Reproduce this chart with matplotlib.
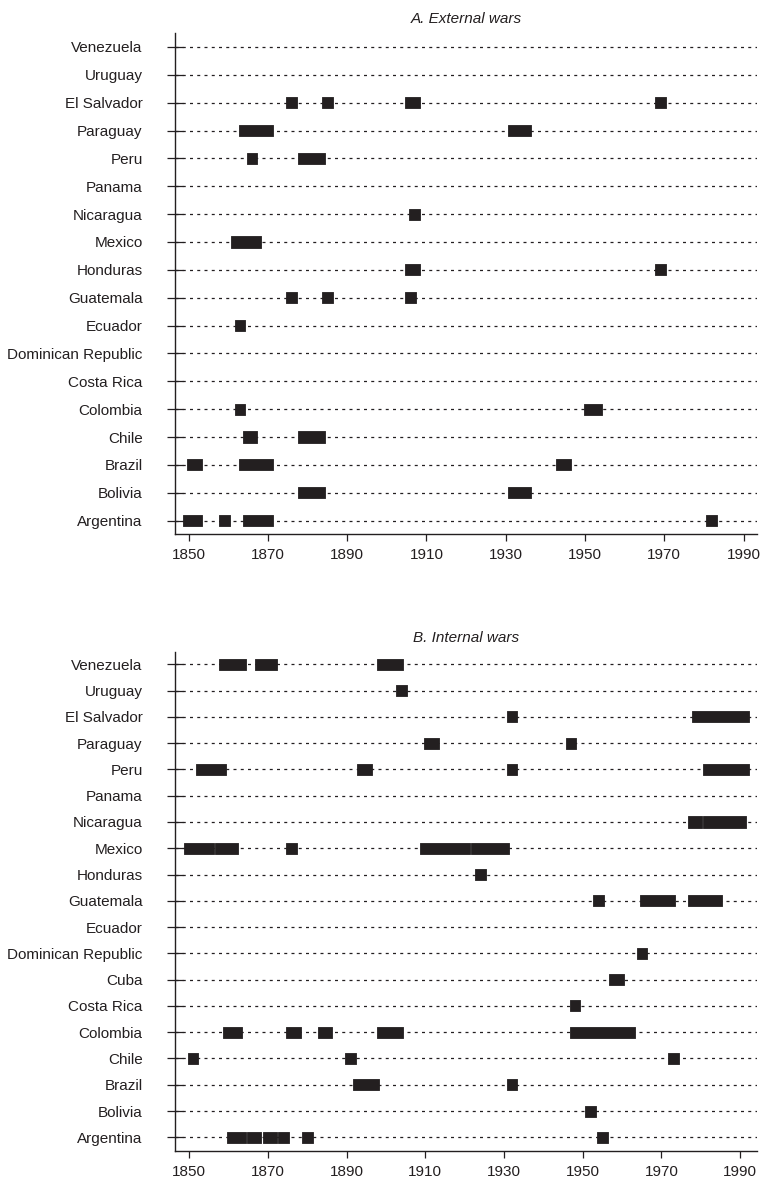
import matplotlib
matplotlib.use("Agg")
import matplotlib.pyplot as plt

plt.rcParams["font.family"] = ["Liberation Sans", "DejaVu Sans"]

INK = "#231f20"

# bottom-to-top row order
ext_countries = ["Argentina", "Bolivia", "Brazil", "Chile", "Colombia", "Costa Rica",
                 "Dominican Republic", "Ecuador", "Guatemala", "Honduras", "Mexico",
                 "Nicaragua", "Panama", "Peru", "Paraguay", "El Salvador", "Uruguay",
                 "Venezuela"]
ext_wars = [
    [(1850, 1852), (1859, 1859), (1865, 1870), (1982, 1982)],  # Argentina
    [(1879, 1883), (1932, 1935)],                              # Bolivia
    [(1851, 1852), (1864, 1870), (1944, 1945)],                # Brazil
    [(1865, 1866), (1879, 1883)],                              # Chile
    [(1863, 1863), (1951, 1953)],                              # Colombia
    [],                                                        # Costa Rica
    [],                                                        # Dominican Republic
    [(1863, 1863)],                                            # Ecuador
    [(1876, 1876), (1885, 1885), (1906, 1906)],                # Guatemala
    [(1906, 1907), (1969, 1969)],                              # Honduras
    [(1862, 1867)],                                            # Mexico
    [(1907, 1907)],                                            # Nicaragua
    [],                                                        # Panama
    [(1866, 1866), (1879, 1883)],                              # Peru
    [(1864, 1870), (1932, 1935)],                              # Paraguay
    [(1876, 1876), (1885, 1885), (1906, 1907), (1969, 1969)],  # El Salvador
    [],                                                        # Uruguay
    [],                                                        # Venezuela
]

int_countries = ["Argentina", "Bolivia", "Brazil", "Chile", "Colombia", "Costa Rica",
                 "Cuba", "Dominican Republic", "Ecuador", "Guatemala", "Honduras",
                 "Mexico", "Nicaragua", "Panama", "Peru", "Paraguay", "El Salvador",
                 "Uruguay", "Venezuela"]
int_wars = [
    [(1861, 1863), (1866, 1867), (1870, 1871), (1874, 1874), (1880, 1880),
     (1955, 1955)],                                            # Argentina
    [(1952, 1952)],                                            # Bolivia
    [(1893, 1897), (1932, 1932)],                              # Brazil
    [(1851, 1851), (1891, 1891), (1973, 1973)],                # Chile
    [(1860, 1862), (1876, 1877), (1884, 1885), (1899, 1903),
     (1948, 1962)],                                            # Colombia
    [(1948, 1948)],                                            # Costa Rica
    [(1958, 1959)],                                            # Cuba
    [(1965, 1965)],                                            # Dominican Republic
    [],                                                        # Ecuador
    [(1954, 1954), (1966, 1972), (1978, 1984)],                # Guatemala
    [(1924, 1924)],                                            # Honduras
    [(1850, 1855), (1858, 1861), (1876, 1876), (1910, 1920),
     (1923, 1930)],                                            # Mexico
    [(1978, 1979), (1982, 1990)],                              # Nicaragua
    [],                                                        # Panama
    [(1853, 1858), (1894, 1895), (1932, 1932), (1982, 1991)],  # Peru
    [(1911, 1912), (1947, 1947)],                              # Paraguay
    [(1932, 1932), (1979, 1991)],                              # El Salvador
    [(1904, 1904)],                                            # Uruguay
    [(1859, 1863), (1868, 1871), (1899, 1903)],                # Venezuela
]

year_ticks = [1850, 1870, 1890, 1910, 1930, 1950, 1970, 1990]


def draw_panel(ax, countries, wars, title, xlim, ylim, bar_h):
    for i, spans in enumerate(wars):
        ax.plot(xlim, [i, i], color=INK, lw=0.9, dashes=(2.4, 3.4), zorder=1)
        for s, e in spans:
            ax.barh(i, e - s + 2.7, left=s - 1.35, height=bar_h, color=INK,
                    edgecolor=INK, linewidth=0.6, joinstyle="round", zorder=2)

    ax.set_xlim(*xlim)
    ax.set_ylim(*ylim)
    ax.set_yticks(range(len(countries)))
    ax.set_yticklabels(countries)
    ax.set_xticks(year_ticks)
    ax.set_title(title, fontsize=11, style="italic", color=INK, pad=7)

    for side in ["top", "right"]:
        ax.spines[side].set_visible(False)
    for side in ["left", "bottom"]:
        ax.spines[side].set_color(INK)
        ax.spines[side].set_linewidth(1.0)

    ax.tick_params(axis="y", direction="inout", length=11.5, width=0.9,
                   pad=17.5, labelsize=11, colors=INK)
    ax.tick_params(axis="x", direction="out", length=5, width=0.9,
                   pad=5, labelsize=11, colors=INK)


fig = plt.figure(figsize=(7.65, 11.83), dpi=100)

ax_a = fig.add_axes([0.2288, 0.5486, 0.7608, 0.4235])
draw_panel(ax_a, ext_countries, ext_wars, "A. External wars",
           (1846.6, 1993.4), (-0.48, 17.5), 0.4)

ax_b = fig.add_axes([0.2288, 0.0273, 0.7604, 0.4218])
draw_panel(ax_b, int_countries, int_wars, "B. Internal wars",
           (1846.4, 1994.2), (-0.51, 18.48), 0.42)

fig.savefig("out.png", dpi=100, facecolor="white")
